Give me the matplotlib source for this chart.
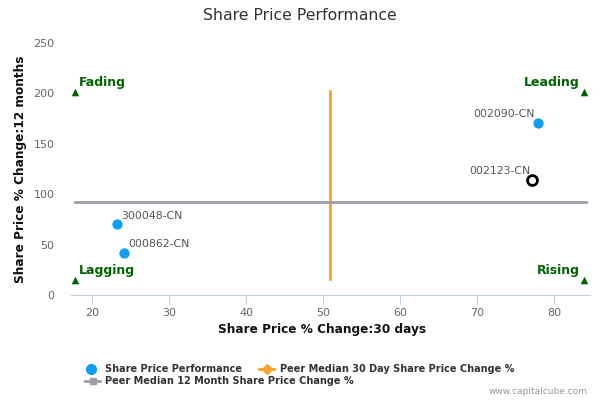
import matplotlib.pyplot as plt
from matplotlib.lines import Line2D

# data
tickers = ['300048-CN', '000862-CN', '002090-CN']
x_30d = [23.3, 24.2, 77.9]
y_12m = [70, 42, 171]
label_side = ['right', 'right', 'left']

focus_ticker = '002123-CN'
focus_x = 77.2
focus_y = 114

peer_median_30d = 50.9
peer_median_12m = 92

quad_names = ['Fading', 'Leading', 'Lagging', 'Rising']
quad_x = [17.8, 83.9, 17.8, 83.9]
quad_y = [201, 201, 15, 15]

x_ticks = [20, 30, 40, 50, 60, 70, 80]
y_ticks = [0, 50, 100, 150, 200, 250]

blue = '#0d9ff0'
orange = '#f7a52a'
grey = '#9d9fa9'
green = '#006400'

fig = plt.figure(figsize=(6, 4), dpi=100)
ax = fig.add_axes([71 / 600, 1 - 295 / 400, 519 / 600, 252 / 400])

ax.set_xlim(17.27, 84.68)
ax.set_ylim(0, 250)

# peer median lines
ax.plot([peer_median_30d, peer_median_30d], [15.5, 202], color=orange, lw=2, zorder=2)
ax.plot([17.8, 84.1], [peer_median_12m, peer_median_12m], color=grey, lw=2, zorder=2)

# peers
ax.scatter(x_30d, y_12m, s=55, color=blue, zorder=3, linewidths=0)
for t, x, y, side in zip(tickers, x_30d, y_12m, label_side):
    if side == 'right':
        ax.annotate(t, (x, y), xytext=(3, 6), textcoords='offset points',
                    ha='left', va='center', fontsize=7.8, color='#555555')
    else:
        ax.annotate(t, (x, y), xytext=(-2, 6.5), textcoords='offset points',
                    ha='right', va='center', fontsize=7.8, color='#555555')

# company itself
ax.scatter([focus_x], [focus_y], s=50, facecolors='white', edgecolors='black',
           linewidths=2, zorder=4)
ax.annotate(focus_ticker, (focus_x, focus_y), xytext=(-1.5, 6.5), textcoords='offset points',
            ha='right', va='center', fontsize=7.8, color='#555555')

# quadrant markers
ax.scatter(quad_x, quad_y, marker='^', s=30, color=green, zorder=3, linewidths=0)
for name, x, y in zip(quad_names, quad_x, quad_y):
    if x < 50:
        ax.annotate(name, (x, y), xytext=(3, 7), textcoords='offset points',
                    ha='left', va='center', fontsize=9, color=green, fontweight='bold')
    else:
        ax.annotate(name, (x, y), xytext=(-3, 7), textcoords='offset points',
                    ha='right', va='center', fontsize=9, color=green, fontweight='bold')

for s in ['top', 'right', 'left']:
    ax.spines[s].set_visible(False)
ax.spines['bottom'].set_color('#c0d0e0')
ax.set_xticks(x_ticks)
ax.set_yticks(y_ticks)
ax.tick_params(axis='x', colors='#c0d0e0', labelcolor='#666666', length=6.5, labelsize=8, pad=3)
ax.tick_params(axis='y', length=0, labelcolor='#666666', labelsize=8, pad=12)

ax.set_xlabel('Share Price % Change:30 days', fontsize=8.7, fontweight='bold', color='#111111')
ax.xaxis.set_label_coords(0.483, -0.11)
ax.set_ylabel('Share Price % Change:12 months', fontsize=8.7, fontweight='bold', color='#111111')
ax.yaxis.set_label_coords(-0.084, 0.5)

fig.text(0.5, 1 - 16 / 400, 'Share Price Performance', ha='center', va='center',
         fontsize=11.3, color='#333333')

# legend
leg_font = dict(fontsize=7, fontweight='bold', color='#333333', va='center', ha='left')
fig.add_artist(Line2D([91 / 600], [1 - 369 / 400], marker='o', color=blue, markersize=7, lw=0))
fig.text(105 / 600, 1 - 369 / 400, 'Share Price Performance', **leg_font)
fig.add_artist(Line2D([259 / 600, 274 / 600], [1 - 369 / 400] * 2, color=orange, lw=2))
fig.add_artist(Line2D([266.5 / 600], [1 - 369 / 400], marker='D', color=orange, markersize=5, lw=0))
fig.text(280 / 600, 1 - 369 / 400, 'Peer Median 30 Day Share Price Change %', **leg_font)
fig.add_artist(Line2D([85 / 600, 100 / 600], [1 - 381 / 400] * 2, color=grey, lw=2))
fig.add_artist(Line2D([92.5 / 600], [1 - 381 / 400], marker='s', color=grey, markersize=5, lw=0))
fig.text(105 / 600, 1 - 381 / 400, 'Peer Median 12 Month Share Price Change %', **leg_font)

fig.text(588 / 600, 1 - 392 / 400, 'www.capitalcube.com', ha='right', va='center',
         fontsize=6.5, color='#999999')

fig.savefig('out.png', dpi=100)
